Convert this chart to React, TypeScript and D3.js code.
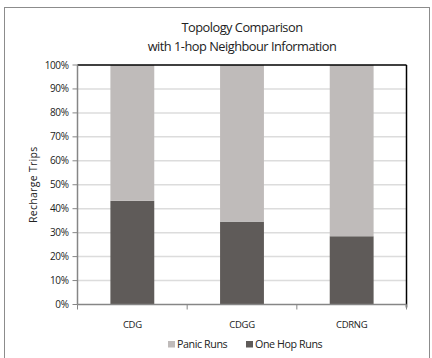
import React from "react";
import * as d3 from "d3";

const categories = ["CDG", "CDGG", "CDRNG"];
const oneHopRuns = [43.3, 34.6, 28.5];
const panicRuns = [56.7, 65.4, 71.5];
const yTicks = [0, 10, 20, 30, 40, 50, 60, 70, 80, 90, 100];
const seriesNames = ["Panic Runs", "One Hop Runs"];

const W = 432, H = 358;
const m = { left: 77.5, right: 406.5, top: 65, bottom: 304.5 };
const font = "'Open Sans', 'Liberation Sans', sans-serif";
const lightC = "#bfbbba";
const darkC = "#5f5b59";

export default function App() {
  const x = d3.scaleBand().domain(categories).range([m.left, m.right]).paddingInner(0.6).paddingOuter(0.3);
  const y = d3.scaleLinear().domain([0, 100]).range([m.bottom, m.top]);
  const stackData = categories.map((c, i) => ({ cat: c, one: oneHopRuns[i], panic: panicRuns[i] }));
  const stack = d3.stack<any>().keys(["one", "panic"])(stackData);
  const colors: Record<string, string> = { one: darkC, panic: lightC };
  const step = (m.right - m.left) / categories.length;
  const cx = (m.left + m.right) / 2;
  return (
    <svg width={W} height={H} style={{ position: "absolute", left: 0, top: 0, background: "#fff" }}>
      <rect x={4.5} y={7.5} width={425} height={360} fill="#fff" stroke="#8c8c8c" strokeWidth={1} />
      <text x={cx} y={32} textAnchor="middle" fontFamily={font} fontSize={12.8} fill="#222" letterSpacing={-0.5}>Topology Comparison</text>
      <text x={cx} y={51} textAnchor="middle" fontFamily={font} fontSize={12.8} fill="#222" letterSpacing={-0.5}>with 1-hop Neighbour Information</text>
      {yTicks.map(t => (
        <g key={t}>
          {t > 0 && t < 100 && <line x1={m.left} x2={m.right} y1={y(t)} y2={y(t)} stroke="#dcdcdc" strokeWidth={1.5} />}
          <line x1={m.left - 5} x2={m.left} y1={y(t)} y2={y(t)} stroke="#868686" strokeWidth={1} />
          <text x={m.left - 9} y={y(t) + 3.5} textAnchor="end" fontFamily={font} fontSize={10} fill="#222" letterSpacing={-0.4}>{t}%</text>
        </g>
      ))}
      {stack.map(s => s.map((d, i) => (
        <rect key={s.key + i} x={x(categories[i])} width={x.bandwidth()} y={y(d[1])} height={y(d[0]) - y(d[1])} fill={colors[s.key]} />
      )))}
      <line x1={m.left} x2={m.right} y1={m.top} y2={m.top} stroke="#000" strokeWidth={1.5} />
      <line x1={m.right} x2={m.right} y1={m.top} y2={m.bottom + 3} stroke="#000" strokeWidth={1.5} />
      <line x1={m.left} x2={m.left} y1={m.top} y2={m.bottom} stroke="#868686" strokeWidth={1.5} />
      <line x1={m.left} x2={m.right} y1={m.bottom} y2={m.bottom} stroke="#868686" strokeWidth={1.5} />
      {[0, 1, 2, 3].map(i => (
        <line key={i} x1={m.left + i * step} x2={m.left + i * step} y1={m.bottom} y2={m.bottom + 5} stroke="#868686" strokeWidth={1} />
      ))}
      {categories.map(c => (
        <text key={c} x={(x(c) as number) + x.bandwidth() / 2} y={328} textAnchor="middle" fontFamily={font} fontSize={9.5} fill="#222" letterSpacing={-0.3}>{c}</text>
      ))}
      <text transform={`translate(37,${(m.top + m.bottom) / 2}) rotate(-90)`} textAnchor="middle" fontFamily={font} fontSize={10.5} fill="#222" letterSpacing={0.3}>Recharge Trips</text>
      <g>
        <rect x={168} y={341} width={7} height={6.5} fill={lightC} />
        <text x={177} y={347.5} fontFamily={font} fontSize={10.7} fill="#222" letterSpacing={-0.4}>{seriesNames[0]}</text>
        <rect x={246} y={341} width={7} height={6.5} fill={darkC} />
        <text x={255} y={347.5} fontFamily={font} fontSize={10.7} fill="#222" letterSpacing={-0.4}>{seriesNames[1]}</text>
      </g>
    </svg>
  );
}
